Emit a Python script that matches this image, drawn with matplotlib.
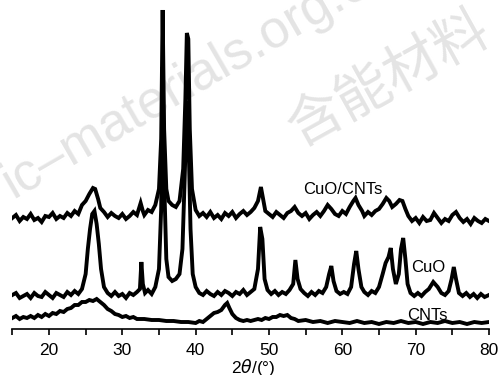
import matplotlib
matplotlib.use("Agg")
import matplotlib.pyplot as plt
from matplotlib.ticker import MultipleLocator

# Данные: 2θ (град.) и интенсивность (отн. ед.)
x_cnt = [15, 15.5, 16, 16.5, 17, 17.5, 18, 18.5, 19, 19.5, 20, 20.5, 21, 21.5, 22, 22.5,
         23, 23.5, 24, 24.5, 25, 25.5, 26, 26.5, 27, 27.5, 28, 28.5, 29, 29.5, 30, 30.5,
         31, 31.5, 32, 33, 34, 35, 36, 37, 38, 39, 40, 40.5, 41, 41.5, 42, 42.5, 43, 43.5,
         44, 44.3, 44.6, 45, 45.5, 46, 46.5, 47, 47.5, 48, 48.5, 49, 49.5, 50, 50.5, 51,
         51.5, 52, 52.5, 53, 53.5, 54, 55, 56, 57, 58, 59, 60, 61, 62, 63, 64, 65, 66, 67,
         68, 69, 70, 71, 72, 73, 74, 75, 76, 77, 78, 79, 80]
y_cnt = [11, 13, 10, 12, 11, 13, 11, 14, 12, 15, 13, 16, 15, 18, 17, 20,
         21, 24, 24, 27, 27, 29, 28, 30, 27, 24, 20, 18, 15, 14, 12, 13,
         11, 12, 10, 10, 9, 9, 8, 8, 7, 7, 6, 8, 7, 10, 13, 16, 17, 19,
         24, 26, 21, 15, 11, 9, 8, 9, 8, 9, 10, 9, 11, 10, 12, 12,
         14, 13, 14, 11, 10, 8, 9, 7, 8, 6, 8, 7, 6, 8, 6, 7, 5, 7, 6,
         8, 6, 7, 5, 7, 6, 8, 6, 7, 5, 7, 6, 7]

x_cuo = [15, 15.5, 16, 16.5, 17, 17.5, 18, 18.5, 19, 19.5, 20, 20.5, 21, 21.5, 22, 22.5,
         23, 23.5, 24, 24.5, 25, 25.3, 25.6, 25.9, 26.2, 26.5, 26.8, 27.1, 27.5, 28, 28.5,
         29, 29.5, 30, 30.5, 31, 31.5, 32, 32.4, 32.6, 32.8, 33.1, 33.5, 34, 34.5, 35, 35.3,
         35.5, 35.7, 36, 36.3, 36.8, 37.3, 37.8, 38.2, 38.5, 38.8, 39.0, 39.3, 39.6, 40,
         40.5, 41, 41.5, 42, 42.5, 43, 43.5, 44, 44.5, 45, 45.5, 46, 46.5, 47, 47.5, 48,
         48.5, 48.8, 49.1, 49.4, 49.8, 50.3, 50.8, 51.3, 51.8, 52.3, 52.8, 53.3, 53.6, 53.9,
         54.3, 54.8, 55.3, 55.8, 56.3, 56.8, 57.3, 57.8, 58.2, 58.5, 58.8, 59.2, 59.7, 60.2,
         60.7, 61.2, 61.6, 61.9, 62.2, 62.6, 63, 63.5, 64, 64.5, 65, 65.5, 65.9, 66.3, 66.6,
         66.9, 67.3, 67.7, 68.0, 68.3, 68.6, 68.9, 69.3, 69.8, 70.3, 70.8, 71.3, 71.8, 72.4,
         73, 73.5, 74, 74.5, 74.9, 75.2, 75.5, 75.9, 76.4, 76.9, 77.4, 77.9, 78.4, 78.9,
         79.4, 80]
y_cuo = [34, 36, 31, 33, 35, 31, 36, 33, 32, 37, 34, 31, 36, 34, 32, 37,
         34, 38, 35, 40, 55, 80, 100, 115, 118, 105, 85, 60, 42, 36, 33,
         37, 33, 35, 31, 36, 34, 37, 40, 67, 45, 36, 39, 35, 42, 60, 120,
         262, 150, 70, 52, 48, 50, 55, 80, 150, 228, 200, 100, 55, 42,
         36, 34, 38, 35, 33, 37, 34, 38, 36, 33, 37, 35, 39, 34, 37, 40,
         60, 102, 90, 50, 39, 35, 38, 34, 37, 35, 39, 45, 69, 50,
         40, 36, 33, 37, 34, 38, 36, 42, 55, 63, 48, 38, 35, 37,
         35, 42, 65, 78, 60, 42, 37, 34, 38, 36, 42, 55, 66, 72, 81,
         60, 45, 55, 80, 91, 70, 45, 36, 33, 36, 33, 37, 40, 47,
         42, 36, 34, 38, 50, 62, 50, 36, 33, 36, 32, 35, 31, 35,
         32, 34]

x_mix = [15, 15.5, 16, 16.5, 17, 17.5, 18, 18.5, 19, 19.5, 20, 20.5, 21, 21.5, 22, 22.5,
         23, 23.5, 24, 24.5, 25, 25.5, 26, 26.3, 26.7, 27, 27.5, 28, 28.5, 29, 29.5, 30,
         30.5, 31, 31.5, 32, 32.5, 32.8, 33, 33.5, 34, 34.5, 35, 35.3, 35.5, 35.7, 36, 36.3,
         36.8, 37.3, 37.8, 38.3, 38.6, 38.8, 39.0, 39.2, 39.5, 40, 40.5, 41, 41.5, 42, 42.5,
         43, 43.5, 44, 44.5, 45, 45.5, 46, 46.5, 47, 47.5, 48, 48.5, 48.9, 49.2, 49.5, 50,
         50.5, 51, 51.5, 52, 52.5, 53, 53.5, 54, 54.5, 55, 55.5, 56, 56.5, 57, 57.5, 58,
         58.5, 59, 59.5, 60, 60.5, 61, 61.5, 61.8, 62.2, 62.7, 63, 63.5, 64, 64.5, 65, 65.5,
         66.0, 66.4, 66.8, 67.3, 67.8, 68.2, 68.6, 69, 69.5, 70, 70.5, 71, 71.5, 72, 72.5,
         73, 73.5, 74, 74.5, 75, 75.5, 76, 76.5, 77, 77.5, 78, 78.5, 79, 79.5, 80]
y_mix = [111, 114, 108, 112, 110, 115, 109, 111, 107, 113, 112, 116, 110, 113, 111, 116,
         113, 118, 115, 124, 128, 135, 141, 140, 130, 121, 117, 112, 116, 113, 111, 115,
         110, 113, 117, 114, 126, 118, 114, 119, 117, 124, 140, 190, 319, 200, 140, 128,
         124, 122, 128, 160, 230, 296, 290, 200, 140, 119, 113, 116, 112, 117, 111,
         114, 110, 116, 113, 117, 111, 115, 118, 114, 117, 121, 128, 142, 130, 118, 115,
         112, 117, 114, 111, 116, 118, 122, 116, 113, 116, 110, 114, 117, 113, 118, 124,
         120, 115, 113, 118, 115, 122, 128, 131, 124, 118, 113, 117, 114, 118, 120, 125,
         131, 128, 122, 125, 129, 128, 120, 113, 108, 111, 106, 112, 108, 109, 116,
         111, 106, 110, 108, 114, 117, 111, 107, 110, 105, 111, 108, 106, 110, 108]

labels = ["CuO/CNTs", "CuO", "CNTs"]
label_pos = [(60.0, 140), (71.7, 62), (71.6, 14)]

tick_font = ["Liberation Sans Narrow", "Liberation Sans", "DejaVu Sans"]

fig = plt.figure(figsize=(4.99, 3.75), dpi=100)
ax = fig.add_axes([12.3 / 499, 46 / 375, 476.7 / 499, 329 / 375])

for xs, ys in [(x_cnt, y_cnt), (x_cuo, y_cuo), (x_mix, y_mix)]:
    ax.plot(xs, ys, color="black", lw=2.8, solid_joinstyle="miter", zorder=3)

for name, (lx, ly) in zip(labels, label_pos):
    ax.text(lx, ly, name, ha="center", va="center", fontsize=12,
            family=tick_font, zorder=4)

ax.set_xlim(15, 80)
ax.set_ylim(0, 329)
for s in ["left", "right", "top"]:
    ax.spines[s].set_visible(False)
ax.spines["bottom"].set_linewidth(1.2)
ax.set_yticks([])
ax.xaxis.set_major_locator(MultipleLocator(10))
ax.xaxis.set_minor_locator(MultipleLocator(5))
ax.tick_params(axis="x", which="both", direction="out", length=4, width=1.2, pad=6)
for t in ax.get_xticklabels():
    t.set_family(tick_font)
    t.set_fontsize(12.5)

fig.text(253 / 499, 1 - 368 / 375, r"2$\theta$/(°)", ha="center", va="center",
         fontsize=12.5, family=tick_font)

# водяной знак
ax.text(13 / 499, 1 - 198 / 375, "ic\u2013materials.org.cn", transform=fig.transFigure,
        fontsize=38, color="#e4e4e4", rotation=30, rotation_mode="anchor",
        ha="left", va="baseline", family="Liberation Sans", zorder=0, clip_on=False)
ax.text(388 / 499, 1 - 80 / 375, "含能材料", transform=fig.transFigure,
        fontsize=40, color="#e4e4e4", rotation=29, rotation_mode="anchor",
        ha="center", va="center", family=["Noto Sans CJK SC"], fontweight="light",
        zorder=0, clip_on=False)

plt.savefig("out.png", dpi=100)
